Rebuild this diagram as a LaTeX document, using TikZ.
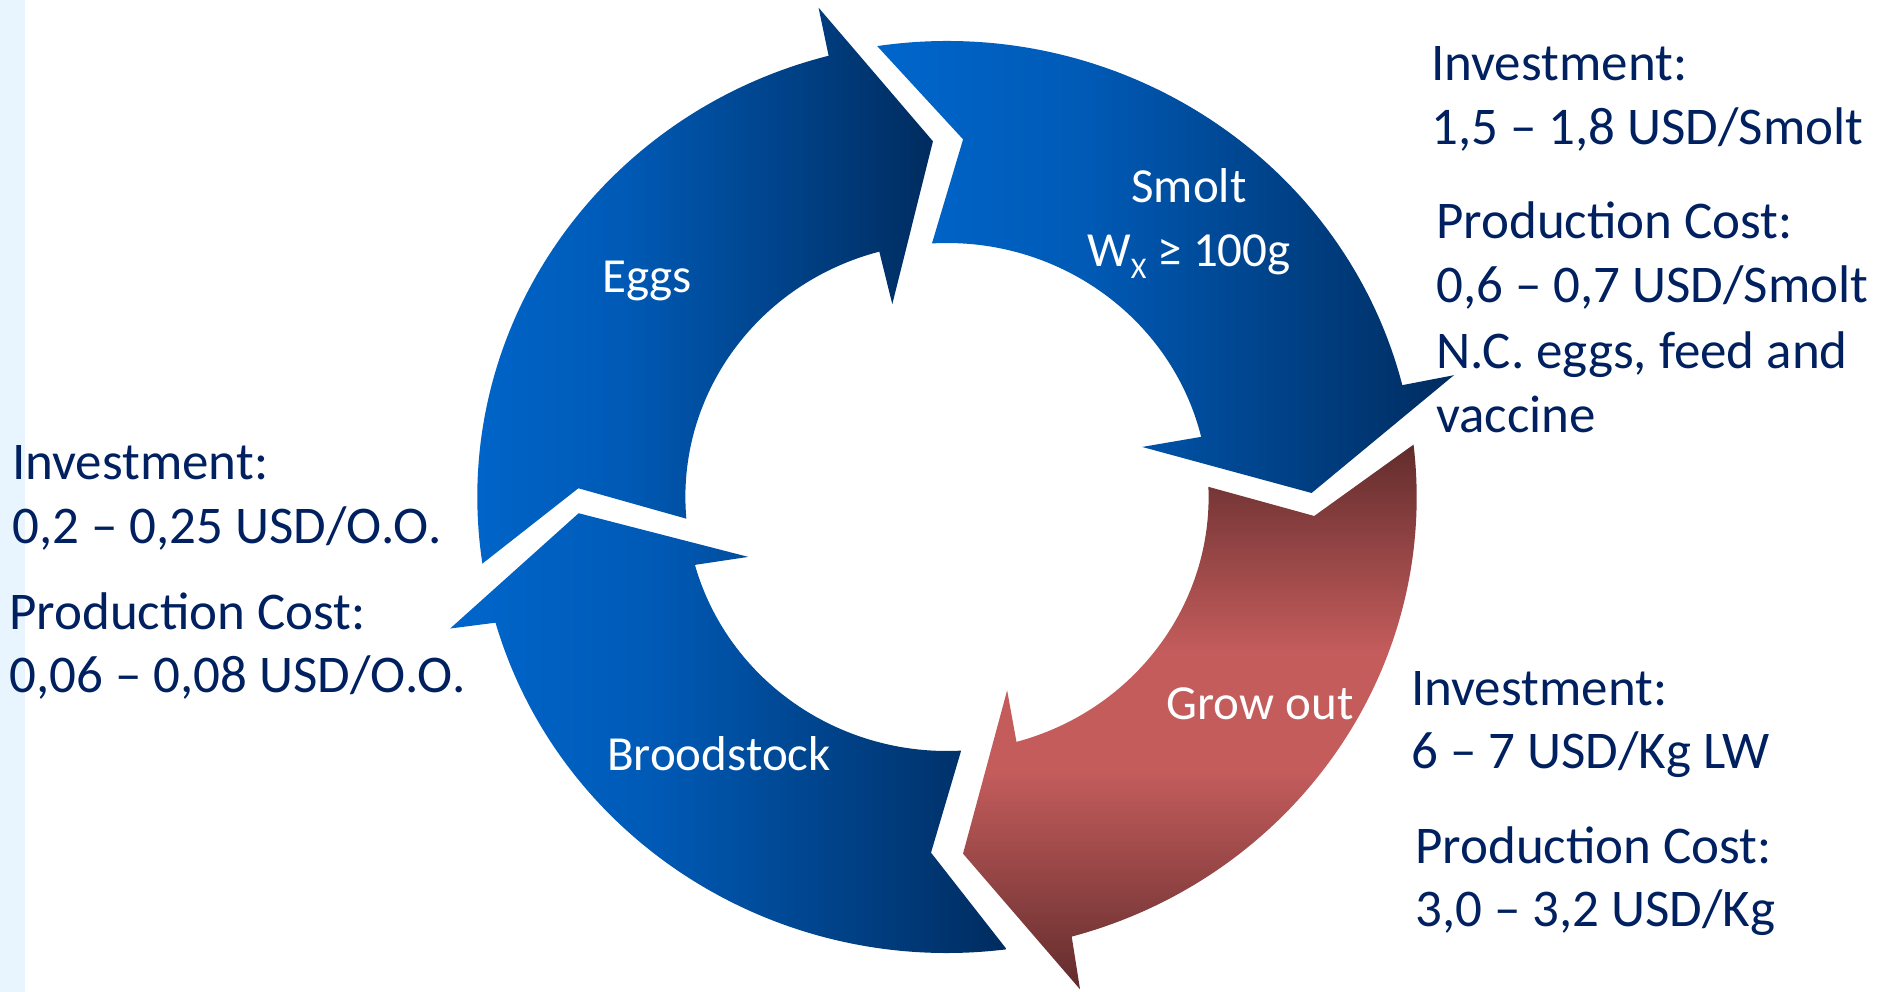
\documentclass[tikz,border=0pt]{standalone}
\usepackage{fontspec}
\setmainfont{Carlito}
\definecolor{navy}{RGB}{0,32,96}
\definecolor{strip}{RGB}{232,244,254}
\definecolor{blueL}{RGB}{0,102,204}
\definecolor{blueM}{RGB}{0,90,182}
\definecolor{blueD}{RGB}{0,44,95}
\definecolor{groD}{RGB}{98,44,44}
\definecolor{groL}{RGB}{196,92,92}
% left-to-right blue fill of the cycle arrows (25bp..75bp spans the shape)
\pgfdeclarehorizontalshading{bluearrow}{100bp}{color(0bp)=(blueL); color(25bp)=(blueL); color(43bp)=(blueM); color(75bp)=(blueD); color(100bp)=(blueD)}
% top-to-bottom red fill: dark ends, light middle band
\pgfdeclareverticalshading{redarrow}{100bp}{color(0bp)=(groD); color(25bp)=(groD); color(45bp)=(groL); color(56bp)=(groL); color(75bp)=(groD); color(100bp)=(groD)}
\tikzset{
  bluearrow/.style={shading=bluearrow, draw=none},
  redarrow/.style={shading=redarrow, draw=none},
  lbl/.style={text=white, font=\fontsize{49}{59}\selectfont, inner sep=0pt, anchor=base},
  note/.style={text=navy, font=\fontsize{53}{64}\selectfont, inner sep=0pt, anchor=base west},
}
\begin{document}
\begin{tikzpicture}[x=1pt,y=-1pt]
\useasboundingbox (0,0) rectangle (1880,992);
\fill[strip] (0,0) rectangle (25,992);

% the four curved arrows of the cycle, in polar form around the ring centre
\begin{scope}[shift={(947,497)}, xscale=1.03, yscale=-1]
  % Eggs
  \shade[bluearrow] (188.4:456) arc[start angle=188.4, end angle=104.6, radius=456]
    -- (104.3:505) -- (92.2:356) -- (105.4:200) -- (105.0:254)
    arc[start angle=105.0, end angle=184.9, radius=254] -- (178.6:358) -- cycle;
  % Smolt
  \shade[bluearrow] (98.55:456) arc[start angle=98.55, end angle=14.2, radius=456]
    -- (13.9:507) -- (0.65:354) -- (14.8:196) -- (13.7:254)
    arc[start angle=13.7, end angle=93.3, radius=254] -- (87.5:358) -- cycle;
  % Grow out
  \shade[redarrow] (6.6:456) arc[start angle=6.6, end angle=-74.6, radius=456]
    -- (-75.3:509) -- (-87.5:357) -- (-73.2:202) -- (-74.6:254)
    arc[start angle=-74.6, end angle=2.3, radius=254] -- (-3.05:357) -- cycle;
  % Broodstock
  \shade[bluearrow] (-82.7:456) arc[start angle=-82.7, end angle=-164.0, radius=456]
    -- (-164.75:500) -- (-177.4:358) -- (-162.75:202) -- (-164.5:254)
    arc[start angle=-164.5, end angle=-86.9, radius=254] -- (-92.5:356) -- cycle;
\end{scope}

% stage labels
\node[lbl] (eggs) at (647,293) {Eggs};
\node[lbl] (smolt) at (1189,203) {Smolt};
\node[lbl] (smoltw) at (1189,267) {W{\fontsize{30}{30}\selectfont\raisebox{-12pt}{X}} ≥ 100g};
\node[lbl] (grow) at (1260,719) {Grow out};
\node[lbl] (brood) at (719,770) {Broodstock};

% cost notes: smolt
\node[note] (sInv) at (1431,81) {Investment:};
\node[note] (sInvV) at (1431,145) {1,5 – 1,8 USD/Smolt};
\node[note] (sPc) at (1436,239) {Production Cost:};
\node[note] (sPcV) at (1436,303) {0,6 – 0,7 USD/Smolt};
\node[note] (sPcN1) at (1436,368) {N.C. eggs, feed and};
\node[note] (sPcN2) at (1436,432) {vaccine};

% cost notes: grow out
\node[note] (gInv) at (1411,705) {Investment:};
\node[note] (gInvV) at (1411,768) {6 – 7 USD/Kg LW};
\node[note] (gPc) at (1415,863) {Production Cost:};
\node[note] (gPcV) at (1415,926) {3,0 – 3,2 USD/Kg};

% cost notes: eggs / broodstock
\node[note] (eInv) at (12,479) {Investment:};
\node[note] (eInvV) at (12,543) {0,2 – 0,25 USD/O.O.};
\node[note] (ePc) at (9,629) {Production Cost:};
\node[note] (ePcV) at (9,692) {0,06 – 0,08 USD/O.O.};
\end{tikzpicture}
\end{document}
